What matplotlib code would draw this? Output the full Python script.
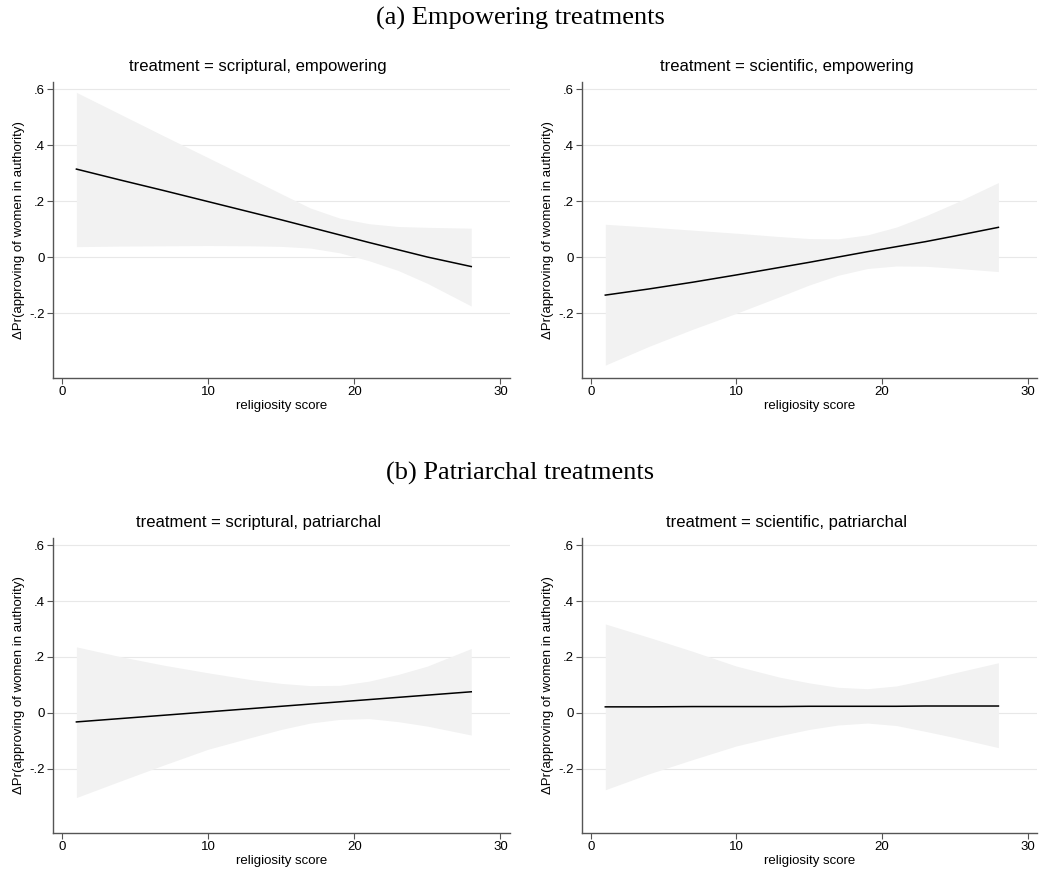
import numpy as np
import matplotlib.pyplot as plt

plt.rcParams['font.family'] = ['Liberation Sans', 'DejaVu Sans']

# religiosity score grid points
x_pts = [1, 4, 7, 10, 13, 15, 17, 19, 21, 23, 25, 28]

# scriptural, empowering
se_est = [0.315, 0.276, 0.238, 0.199, 0.160, 0.134, 0.107, 0.080, 0.053, 0.027, 0.001, -0.033]
se_hi = [0.589, 0.511, 0.433, 0.356, 0.279, 0.227, 0.176, 0.140, 0.120, 0.110, 0.107, 0.104]
se_lo = [0.038, 0.040, 0.041, 0.042, 0.041, 0.039, 0.033, 0.016, -0.012, -0.047, -0.093, -0.174]

# scientific, empowering
ce_est = [-0.135, -0.113, -0.089, -0.063, -0.036, -0.018, 0.001, 0.020, 0.038, 0.056, 0.076, 0.107]
ce_hi = [0.118, 0.108, 0.097, 0.086, 0.074, 0.067, 0.066, 0.080, 0.108, 0.148, 0.193, 0.267]
ce_lo = [-0.385, -0.318, -0.257, -0.200, -0.140, -0.099, -0.064, -0.040, -0.031, -0.032, -0.039, -0.051]

# scriptural, patriarchal
sp_est = [-0.033, -0.021, -0.009, 0.003, 0.015, 0.023, 0.031, 0.039, 0.047, 0.055, 0.063, 0.075]
sp_hi = [0.236, 0.201, 0.170, 0.143, 0.118, 0.105, 0.097, 0.098, 0.113, 0.137, 0.167, 0.230]
sp_lo = [-0.304, -0.245, -0.187, -0.131, -0.088, -0.060, -0.037, -0.024, -0.021, -0.032, -0.048, -0.080]

# scientific, patriarchal
cp_est = [0.021, 0.021, 0.022, 0.022, 0.022, 0.023, 0.023, 0.023, 0.023, 0.024, 0.024, 0.024]
cp_hi = [0.318, 0.270, 0.220, 0.167, 0.127, 0.107, 0.091, 0.086, 0.096, 0.118, 0.143, 0.179]
cp_lo = [-0.276, -0.219, -0.168, -0.119, -0.082, -0.060, -0.044, -0.037, -0.046, -0.067, -0.089, -0.125]

titles = ["treatment = scriptural, empowering", "treatment = scientific, empowering",
          "treatment = scriptural, patriarchal", "treatment = scientific, patriarchal"]
yticks = [-0.2, 0, 0.2, 0.4, 0.6]
ytick_labels = ["-.2", "0", ".2", ".4", ".6"]
xticks = [0, 10, 20, 30]

panels = [(se_est, se_hi, se_lo), (ce_est, ce_hi, ce_lo),
          (sp_est, sp_hi, sp_lo), (cp_est, cp_hi, cp_lo)]

W, H = 1040, 874
fig = plt.figure(figsize=(W / 100, H / 100), dpi=100)

# axes boxes in pixels: left, top, right, bottom
boxes = [(53, 82, 510, 378), (582, 82, 1037, 378),
         (53, 538, 510, 833), (582, 538, 1037, 833)]
title_x = [258, 787, 258, 787]

for i, (est, hi, lo) in enumerate(panels):
    l, t, r, b = boxes[i]
    ax = fig.add_axes([l / W, 1 - b / H, (r - l) / W, (b - t) / H])
    ax.fill_between(x_pts, lo, hi, color="#f2f2f2", lw=0)
    ax.plot(x_pts, est, color="black", lw=1.1)
    ax.set_xlim(-0.6, 30.65)
    ax.set_ylim(-0.431, 0.626)
    ax.set_yticks(yticks)
    ax.set_yticklabels(ytick_labels)
    ax.set_xticks(xticks)
    ax.grid(axis="y", color="#e8e8e8", lw=0.8)
    ax.set_axisbelow(True)
    for s in ["top", "right"]:
        ax.spines[s].set_visible(False)
    for s in ["left", "bottom"]:
        ax.spines[s].set_color("#555555")
        ax.spines[s].set_linewidth(1.0)
    ax.tick_params(direction="out", length=4, width=0.8, color="#555555",
                   labelsize=9.5, pad=2)
    ax.set_ylabel("ΔPr(approving of women in authority)", fontsize=9.5, labelpad=3)
    ax.set_xlabel("religiosity score", fontsize=9.5, labelpad=1)
    fig.text(title_x[i] / W, 1 - (t - 15) / H, titles[i], ha="center", va="center",
             fontsize=12)

fig.text(0.5, 1 - 18 / H, "(a) Empowering treatments", ha="center", va="center",
         fontsize=19, family=["Liberation Serif", "DejaVu Serif"])
fig.text(0.5, 1 - 473 / H, "(b) Patriarchal treatments", ha="center", va="center",
         fontsize=19, family=["Liberation Serif", "DejaVu Serif"])

fig.savefig("out.png", dpi=100, facecolor="white")
